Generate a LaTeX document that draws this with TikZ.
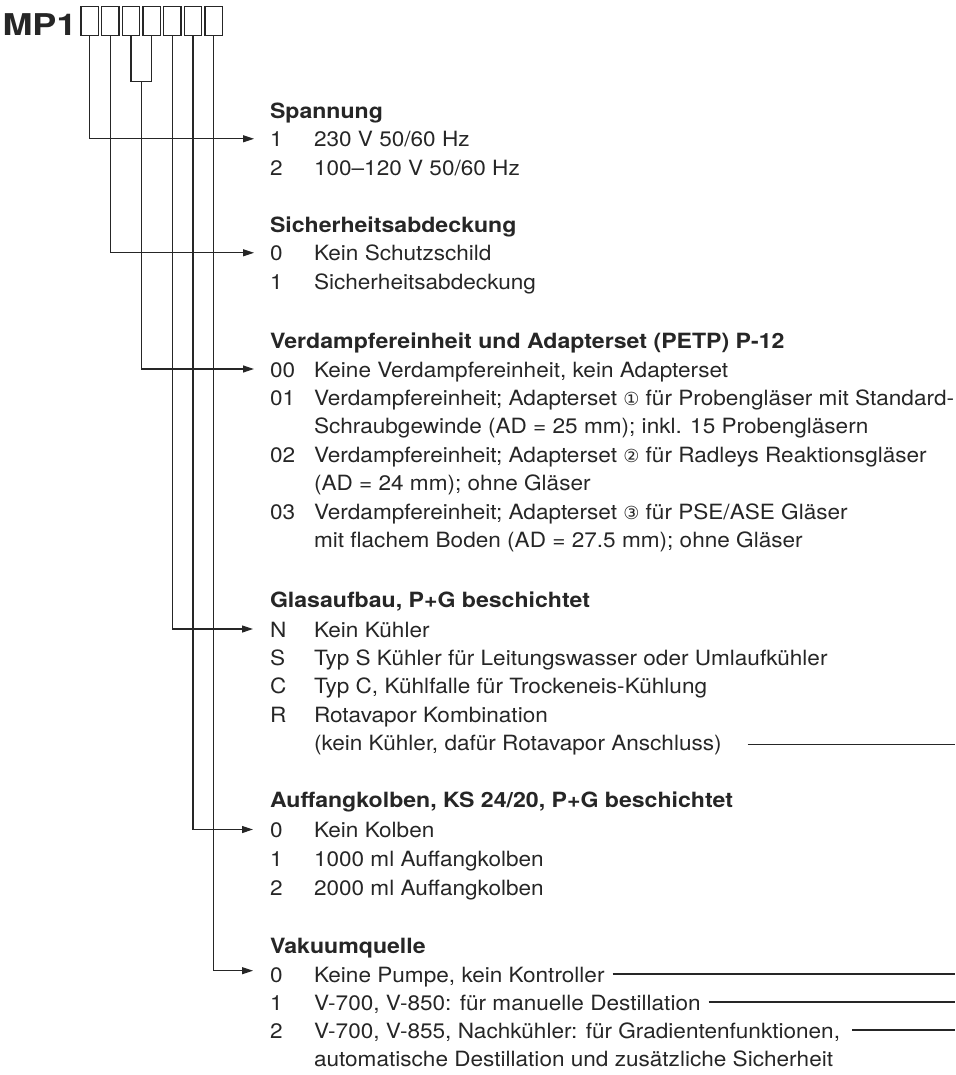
\documentclass[tikz,border=0pt]{standalone}
\usepackage{fontspec}
\setmainfont[FakeStretch=1.075,BoldFeatures={FakeStretch=1.10}]{TeX Gyre Heros}
\newfontfamily\mpfont[FakeStretch=1.2]{TeX Gyre Heros}
\newfontfamily\circfont{DejaVu Sans}
\newcommand{\circd}[1]{{\fontsize{18}{22}\circfont #1}}
\usetikzlibrary{arrows.meta,calc}
\definecolor{ink}{HTML}{262626}
\begin{document}
\begin{tikzpicture}[x=1pt,y=-1pt,
  every node/.style={inner sep=0pt,outer sep=0pt,text=ink},
  box/.style={draw=ink,line width=1.2pt,minimum width=17.3pt,minimum height=29pt},
  head/.style={anchor=base west,font=\fontsize{21}{25}\bfseries},
  num/.style={anchor=base west,font=\fontsize{21}{25}\selectfont,text height=16pt,text depth=0pt},
  itm/.style={anchor=base west,font=\fontsize{21}{25}\selectfont},
  conn/.style={draw=ink,line width=1.2pt},
  arr/.style={conn,-{Triangle[length=11pt,width=7pt]}},
]
\useasboundingbox (0,0) rectangle (955,1075);

% title and boxes
\node[anchor=base west,font=\fontsize{30}{34}\mpfont\bfseries] (mp) at (2.5,35.5) {MP1};
\node[box] (b1) at (89.7,21.2) {};
\node[box] (b2) at (110.37,21.2) {};
\node[box] (b3) at (131.04,21.2) {};
\node[box] (b4) at (151.71,21.2) {};
\node[box] (b5) at (172.38,21.2) {};
\node[box] (b6) at (193.05,21.2) {};
\node[box] (b7) at (213.72,21.2) {};

% Section 1
\node[head] (h1) at (270,118.2) {Spannung};
\node[num] (n11) at (270,146.8) {1};
\node[itm] (t11) at (314,146.8) {230 V 50/60 Hz};
\node[num] (n12) at (270,175.8) {2};
\node[itm] (t12) at (314,175.8) {100–120 V 50/60 Hz};

% Section 2
\node[head] (h2) at (270,232.5) {Sicherheitsabdeckung};
\node[num] (n21) at (270,260.8) {0};
\node[itm] (t21) at (314,260.8) {Kein Schutzschild};
\node[num] (n22) at (270,289.2) {1};
\node[itm] (t22) at (314,289.2) {Sicherheitsabdeckung};

% Section 3
\node[head] (h3) at (270,348.2) {Verdampfereinheit und Adapterset (PETP) P-12};
\node[num] (n31) at (270,377) {00};
\node[itm] (t31) at (314,377) {Keine Verdampfereinheit, kein Adapterset};
\node[num] (n32) at (270,405.4) {01};
\node[itm] (t32) at (314,405.4) {Verdampfereinheit; Adapterset \circd{①} für Probengläser mit Standard-};
\node[itm] (c32) at (314,433.8) {Schraubgewinde (AD = 25 mm); inkl. 15 Probengläsern};
\node[num] (n33) at (270,462.2) {02};
\node[itm] (t33) at (314,462.2) {Verdampfereinheit; Adapterset \circd{②} für Radleys Reaktionsgläser};
\node[itm] (c33) at (314,490.6) {(AD = 24 mm); ohne Gläser};
\node[num] (n34) at (270,519) {03};
\node[itm] (t34) at (314,519) {Verdampfereinheit; Adapterset \circd{③} für PSE/ASE Gläser};
\node[itm] (c34) at (314,547.4) {mit flachem Boden (AD = 27.5 mm); ohne Gläser};

% Section 4
\node[head] (h4) at (270,607.5) {Glasaufbau, P+G beschichtet};
\node[num] (n41) at (270,637) {N};
\node[itm] (t41) at (314,637) {Kein Kühler};
\node[num] (n42) at (270,665.4) {S};
\node[itm] (t42) at (314,665.4) {Typ S Kühler für Leitungswasser oder Umlaufkühler};
\node[num] (n43) at (270,693.8) {C};
\node[itm] (t43) at (314,693.8) {Typ C, Kühlfalle für Trockeneis-Kühlung};
\node[num] (n44) at (270,722.2) {R};
\node[itm] (t44) at (314,722.2) {Rotavapor Kombination};
\node[itm] (c44) at (314,750.6) {(kein Kühler, dafür Rotavapor Anschluss)};

% Section 5
\node[head] (h5) at (270,807.5) {Auffangkolben, KS 24/20, P+G beschichtet};
\node[num] (n51) at (270,837.5) {0};
\node[itm] (t51) at (314,837.5) {Kein Kolben};
\node[num] (n52) at (270,866.3) {1};
\node[itm] (t52) at (314,866.3) {1000 ml Auffangkolben};
\node[num] (n53) at (270,895) {2};
\node[itm] (t53) at (314,895) {2000 ml Auffangkolben};

% Section 6
\node[head] (h6) at (270,953) {Vakuumquelle};
\node[num] (n61) at (270,982.5) {0};
\node[itm] (t61) at (314,982.5) {Keine Pumpe, kein Kontroller};
\node[num] (n62) at (270,1010.5) {1};
\node[itm] (t62) at (314,1010.5) {V-700, V-850: für manuelle Destillation};
\node[num] (n63) at (270,1038.5) {2};
\node[itm] (t63) at (314,1038.5) {V-700, V-855, Nachkühler: für Gradientenfunktionen,};
\node[itm] (c63) at (314,1066.5) {automatische Destillation und zusätzliche Sicherheit};

% connectors
\draw[arr] (b1.south) |- ([xshift=-16pt]n11.west);
\draw[arr] (b2.south) |- ([xshift=-16pt]n21.west);
\coordinate (jn) at (141.4,81.7);
\draw[conn] (b3.south) |- (jn) -| (b4.south);
\draw[arr] (jn) |- ([xshift=-16pt]n31.west);
\draw[arr] (b5.south) |- ([xshift=-17pt]n41.west);
\draw[arr] (b6.south) |- ([xshift=-17pt]n51.west);
\draw[arr] (b7.south) |- ([xshift=-17pt,yshift=3.8pt]n61.west);

% rules to the right edge
\coordinate (rend) at (955,0);
\draw[conn] ($(c44.base east)+(26,-6)$) -- ($(c44.base east -| rend)+(0,-6)$);
\draw[conn] ($(t61.base east)+(8,-8.5)$) -- ($(t61.base east -| rend)+(0,-8.5)$);
\draw[conn] ($(t62.base east)+(8,-8.5)$) -- ($(t62.base east -| rend)+(0,-8.5)$);
\draw[conn] ($(t63.base east)+(12,-8.5)$) -- ($(t63.base east -| rend)+(0,-8.5)$);
\end{tikzpicture}
\end{document}
